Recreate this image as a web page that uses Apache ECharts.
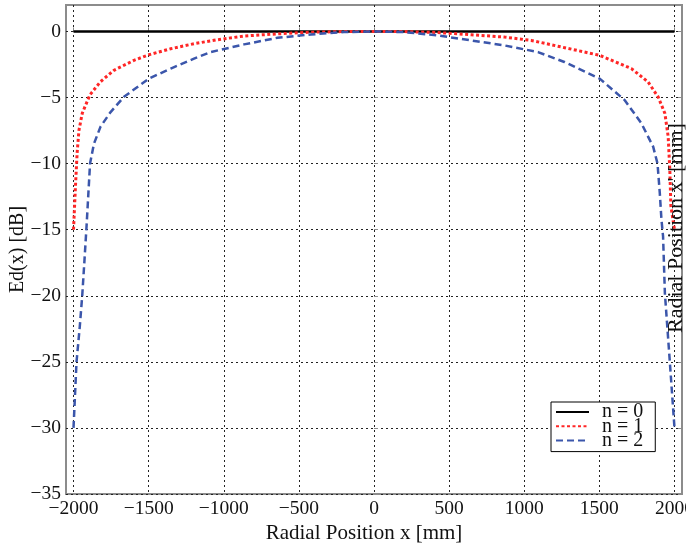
<!DOCTYPE html>
<html>
<head>
<meta charset="utf-8">
<script src="https://cdn.jsdelivr.net/npm/echarts@6/dist/echarts.min.js"></script>
<style>html,body{margin:0;padding:0;background:#fff}#c{width:686px;height:547px}</style>
</head>
<body>
<div id="c"></div>
<script>
const xTicks = [-2000, -1500, -1000, -500, 0, 500, 1000, 1500, 2000];
const yTicks = [-35, -30, -25, -20, -15, -10, -5, 0];
const seriesNames = ['n = 0', 'n = 1', 'n = 2'];

const n0X = [-2000, 2000];
const n0Y = [0, 0];

const n1X = [-2000,-1987,-1976,-1964,-1942,-1891,-1820,-1731,-1598,-1498,-1353,-1198,-1050,-865,-642,-420,-200,0,200,420,647,869,1047,1269,1502,1713,1824,1891,1936,1958,1969,1976,2000];
const n1Y = [-15,-11.7,-9.2,-7.5,-6.2,-4.8,-3.8,-2.94,-2.19,-1.76,-1.31,-0.93,-0.64,-0.35,-0.18,-0.06,-0.01,0,-0.01,-0.08,-0.25,-0.43,-0.68,-1.23,-1.81,-2.81,-3.82,-4.95,-6.2,-7.96,-10.5,-13.2,-15];

const n2X = [-2000,-1980,-1958,-1942,-1927,-1913,-1890,-1864,-1820,-1753,-1664,-1498,-1353,-1198,-1087,-865,-642,-420,-200,0,200,424,647,869,1091,1267,1502,1669,1780,1858,1887,1902,1913,1924,1936,1969,2000];
const n2Y = [-30,-25,-22.3,-20,-17.3,-14.7,-10,-8.5,-7.2,-6.1,-4.95,-3.57,-2.81,-2.06,-1.56,-0.98,-0.48,-0.23,-0.05,0,-0.05,-0.3,-0.68,-1.06,-1.56,-2.31,-3.57,-5.2,-6.96,-8.72,-10,-12.2,-14.2,-15.5,-19.8,-25,-30];

const pairs = (xs, ys) => xs.map((x, i) => [x, ys[i]]);
const FONT = 'Liberation Serif';
const minus = v => String(v).replace('-', '\u2212');
const gridLine = { show: true, lineStyle: { color: '#222', type: [2, 3], width: 1 } };

const chart = echarts.init(document.getElementById('c'), null, { renderer: 'canvas' });
chart.setOption({
  animation: false,
  backgroundColor: '#fff',
  textStyle: { fontFamily: FONT },
  grid: { left: 66, right: 4, top: 5, bottom: 53, outerBoundsMode: 'none', containLabel: false,
          show: true, borderColor: '#8c8c8c', borderWidth: 2, backgroundColor: 'transparent' },
  xAxis: {
    type: 'value', min: -2050, max: 2050,
    name: 'Radial Position x [mm]', nameLocation: 'middle', nameGap: 29, nameMoveOverlap: false,
    nameTextStyle: { fontFamily: FONT, fontSize: 21, color: '#111', padding: [0, 20, 0, 0] },
    axisLine: { show: false },
    axisTick: { show: true, inside: true, length: 4, customValues: xTicks, lineStyle: { color: '#8c8c8c', width: 1 } },
    axisLabel: { customValues: xTicks, formatter: minus, fontFamily: FONT, fontSize: 19.5, color: '#111', margin: 5 },
    splitLine: gridLine
  },
  yAxis: [{
    type: 'value', min: -35, max: 2,
    name: 'Ed(x) [dB]', nameLocation: 'middle', nameGap: 38, nameMoveOverlap: false,
    nameTextStyle: { fontFamily: FONT, fontSize: 20, color: '#111' },
    axisLine: { show: false },
    axisTick: { show: true, inside: true, length: 4, customValues: yTicks, lineStyle: { color: '#8c8c8c', width: 1 } },
    axisLabel: { customValues: yTicks, formatter: minus, fontFamily: FONT, fontSize: 19.5, color: '#111', margin: 5 },
    splitLine: gridLine
  }, {
    type: 'value', min: -35, max: 2, position: 'right',
    axisLine: { show: false },
    axisTick: { show: true, inside: true, length: 4, customValues: yTicks, lineStyle: { color: '#8c8c8c', width: 1 } },
    axisLabel: { show: false },
    splitLine: { show: false }
  }],
  legend: {
    orient: 'vertical', left: 551, top: 402,
    data: seriesNames,
    backgroundColor: '#fff', borderColor: '#000', borderWidth: 1, borderRadius: 0,
    padding: [0, 12, 1, 4], itemGap: -5.7, itemWidth: 33, itemHeight: 14,
    itemStyle: { opacity: 0 },
    textStyle: { fontFamily: FONT, fontSize: 20, lineHeight: 14, color: '#111', padding: [0, 0, 0, 8] }
  },
  graphic: [{
    type: 'text', x: 676, y: 228, rotation: Math.PI / 2,
    style: { text: "Radial Position x' [mm]", font: '22px "Liberation Serif"', fill: '#111', align: 'center', verticalAlign: 'middle' },
    z: 100
  }],
  series: [
    { name: seriesNames[0], type: 'line', data: pairs(n0X, n0Y), symbol: 'none', clip: false, z: 3,
      lineStyle: { color: '#000', width: 2.5 }, itemStyle: { color: '#000' } },
    { name: seriesNames[1], type: 'line', data: pairs(n1X, n1Y), symbol: 'none', clip: false, z: 4,
      lineStyle: { color: '#ff2626', width: 3, type: [3, 2.5] }, itemStyle: { color: '#ff2626' } },
    { name: seriesNames[2], type: 'line', data: pairs(n2X, n2Y), symbol: 'none', clip: false, z: 5,
      lineStyle: { color: '#3b56ab', width: 2.5, type: [7, 4] }, itemStyle: { color: '#3b56ab' } }
  ]
});
</script>
</body>
</html>
